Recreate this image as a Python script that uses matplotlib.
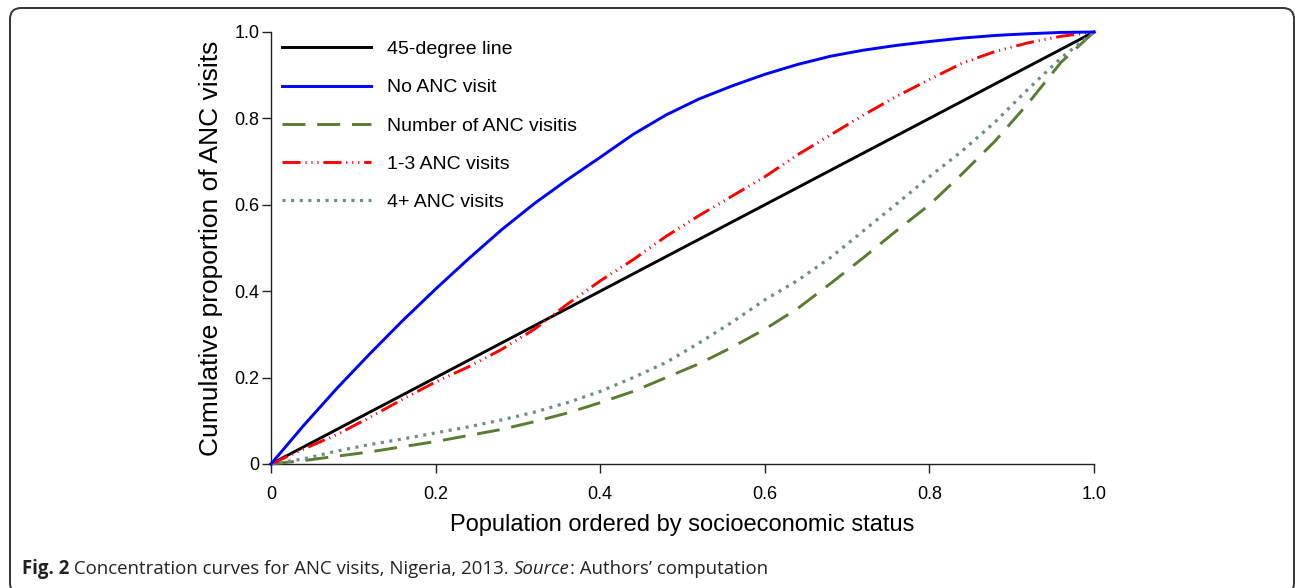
import matplotlib
matplotlib.use("Agg")
import matplotlib.pyplot as plt
from matplotlib.patches import FancyBboxPatch
from matplotlib.transforms import IdentityTransform

plt.rcParams['font.family'] = ['Liberation Sans', 'DejaVu Sans']
plt.rcParams['lines.scale_dashes'] = False

# cumulative share of population (ranked by SES)
pop_share = [0.0, 0.04, 0.08, 0.12, 0.16, 0.20, 0.24, 0.28, 0.32, 0.36, 0.40, 0.44, 0.48,
             0.52, 0.56, 0.60, 0.64, 0.68, 0.72, 0.76, 0.80, 0.84, 0.88, 0.92, 0.96, 1.0]

equality = [0.0, 1.0]
no_anc = [0.0, 0.09, 0.175, 0.255, 0.332, 0.405, 0.475, 0.542, 0.603, 0.658, 0.71, 0.763, 0.808,
          0.845, 0.875, 0.902, 0.925, 0.944, 0.958, 0.969, 0.978, 0.986, 0.992, 0.996, 0.999, 1.0]
num_anc = [0.0, 0.008, 0.018, 0.028, 0.040, 0.052, 0.066, 0.080, 0.098, 0.118, 0.142, 0.168, 0.200,
           0.232, 0.270, 0.312, 0.360, 0.418, 0.478, 0.540, 0.600, 0.672, 0.748, 0.835, 0.93, 1.0]
anc_1_3 = [0.0, 0.035, 0.068, 0.108, 0.15, 0.19, 0.225, 0.265, 0.312, 0.37, 0.424, 0.473, 0.527,
           0.575, 0.620, 0.665, 0.716, 0.762, 0.808, 0.851, 0.890, 0.928, 0.955, 0.975, 0.99, 1.0]
anc_4p = [0.0, 0.012, 0.030, 0.045, 0.058, 0.072, 0.086, 0.102, 0.120, 0.142, 0.168, 0.200, 0.235,
          0.280, 0.328, 0.38, 0.425, 0.478, 0.540, 0.602, 0.665, 0.725, 0.792, 0.868, 0.94, 1.0]

ticks = [0, 0.2, 0.4, 0.6, 0.8, 1.0]
tick_labels = ['0', '0.2', '0.4', '0.6', '0.8', '1.0']

fig = plt.figure(figsize=(12.95, 5.88), dpi=100)
ax = fig.add_axes([271/1295, 1 - 464/588, (1094-271)/1295, (464-32)/588])

ax.plot(equality, equality, color='black', lw=2.1, label='45-degree line', clip_on=False, zorder=3)
ax.plot(pop_share, no_anc, color='#0000ff', lw=2.1, label='No ANC visit', clip_on=False, zorder=4)
ax.plot(pop_share, num_anc, color='#5b7a32', lw=2.1, dashes=(16.5, 8.5),
        label='Number of ANC visitis', clip_on=False, zorder=3)
ax.plot(pop_share, anc_1_3, color='#ff0000', lw=2.1,
        dashes=(13, 3.5, 0.8, 3.5, 0.8, 3.5, 0.8, 3.5), dash_capstyle='butt',
        label='1-3 ANC visits', clip_on=False, zorder=3)
ax.plot(pop_share, anc_4p, color='#6f8c86', lw=2.3, dashes=(2.2, 4.0), dash_capstyle='butt',
        label='4+ ANC visits', clip_on=False, zorder=3)

ax.set_xlim(0, 1)
ax.set_ylim(0, 1)
ax.set_xticks(ticks)
ax.set_xticklabels(tick_labels)
ax.set_yticks(ticks)
ax.set_yticklabels(tick_labels)
for s in ['top', 'right']:
    ax.spines[s].set_visible(False)
for s in ['left', 'bottom']:
    ax.spines[s].set_linewidth(1.0)
    ax.spines[s].set_color('#222222')
ax.tick_params(axis='both', direction='out', length=6.5, width=1.0, color='#222222', labelsize=13)
ax.tick_params(axis='x', pad=9)
ax.tick_params(axis='y', pad=2)

ax.set_xlabel('Population ordered by socioeconomic status', fontsize=17, labelpad=8)
ax.set_ylabel('Cumulative proportion of ANC visits', fontsize=19, labelpad=8)

leg = ax.legend(loc='upper left', bbox_to_anchor=(0.013, 0.98), frameon=False, fontsize=14,
                handlelength=4.6, handletextpad=0.8, labelspacing=1.06, borderpad=0, borderaxespad=0)

# rounded frame around the whole figure (pixel coords)
box = FancyBboxPatch((10, -6), 1284, 586, transform=IdentityTransform(),
                     boxstyle='round,pad=0,rounding_size=11', fc='none', ec='#333333', lw=1.4,
                     clip_on=False)
fig.patches.append(box)

caption = [('Fig. 2', 'bold', 'normal'),
           (' Concentration curves for ANC visits, Nigeria, 2013. ', 'normal', 'normal'),
           ('Source', 'normal', 'italic'),
           (': Authors\u2019 computation', 'normal', 'normal')]
fig.canvas.draw()
r = fig.canvas.get_renderer()
xpos = 22
for txt, wt, st in caption:
    t = fig.text(xpos/1295, 1 - 574/588, txt, fontsize=13.4, fontweight=wt, fontstyle=st,
                 family=['Open Sans', 'DejaVu Sans'], color='#222222', va='baseline', ha='left')
    bb = t.get_window_extent(renderer=r)
    xpos += bb.width

fig.savefig('out.png', dpi=100)
